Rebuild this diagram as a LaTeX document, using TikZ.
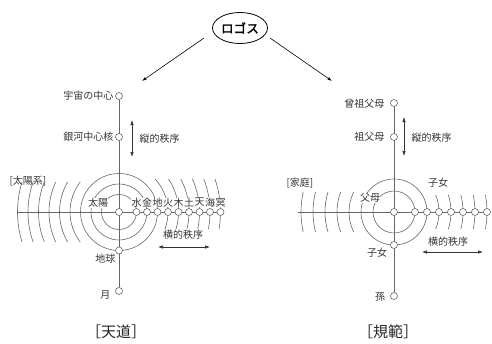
\documentclass[tikz,border=0pt]{standalone}
\usepackage{fontspec}
\setmainfont{Noto Sans CJK JP}
\newfontfamily\logofont[FakeBold=2]{Noto Sans CJK JP}
\usetikzlibrary{arrows.meta,shapes.geometric}
\pgfdeclarelayer{bg}
\pgfsetlayers{bg,main}
\begin{document}
\begin{tikzpicture}[x=1pt,y=-1pt,
  ln/.style={draw=black!60, line width=0.6pt},
  dot/.style={circle, draw=black!60, fill=white, line width=0.6pt, minimum size=7pt, inner sep=0pt},
  lab/.style={inner sep=0.4pt, font=\fontsize{10}{12}\selectfont, text=black!80},
  wlab/.style={lab, fill=white},
  big/.style={inner sep=0pt, font=\fontsize{15}{17}\selectfont, text=black!85},
  arr/.style={black!80, line width=0.6pt, {Latex[length=5pt,width=3.5pt]}-{Latex[length=5pt,width=3.5pt]}},
  toparr/.style={black, line width=0.6pt, -{Latex[length=4.5pt,width=3pt]}},
  ]
\useasboundingbox (0,0) rectangle (492,343);

% Logos
\node[ellipse, draw, line width=0.8pt, minimum width=55pt, minimum height=31pt, inner sep=0pt,
      font=\logofont\fontsize{12.5}{14}\selectfont] (logo) at (240,28) {ロゴス};
\coordinate (l0) at (204,38); \coordinate (l1) at (142,81);
\coordinate (r0) at (270,38); \coordinate (r1) at (332,81);
\draw[toparr] (l0) -- (l1);
\draw[toparr] (r0) -- (r1);

% ---------------- Left: 天道 ----------------
\coordinate (S) at (119,212);
\node[dot] (U) at (119,96) {};
\node[dot] (G) at (119,137) {};
\node[dot] (sun) at (S) {};
\node[dot] (E) at (119,250.5) {};
\node[dot] (M) at (119,291) {};
\coordinate (hl) at (18,212);
\foreach \i/\c in {1/水,2/金,3/地,4/火,5/木,6/土,7/天,8/海,9/冥}{
  \node[dot] (p\i) at ({136.5+10.5*(\i-1)},212) {};
  \node[wlab] (pl\i) at ({136.5+10.5*(\i-1)},202.5) {\c};
}
\begin{pgfonlayer}{bg}
  \draw[ln] (S) circle[radius=17.5];
  \draw[ln] (S) circle[radius=28];
  \draw[ln] (S) circle[radius=38.5];
  \foreach \i in {4,...,9}{
    \pgfmathsetmacro\r{17.5+10.5*(\i-1)}
    \pgfmathsetmacro\a{asin(30/\r)}
    \pgfmathsetmacro\at{asin(33/\r)}
    \pgfmathsetmacro\ab{asin(17/\r)}
    \draw[ln] (S) ++(180-\a:\r) arc[start angle=180-\a, end angle=180+\a, radius=\r];
    \draw[ln] (S) ++(-\at:\r) arc[start angle=-\at, end angle=\ab, radius=\r];
  }
  \draw[ln] (U) -- (M);
  \draw[ln] (hl) -- (p9);
\end{pgfonlayer}
\node[lab, anchor=east] (tU) at (114,96) {宇宙の中心};
\node[lab, anchor=east] (tG) at (114,137) {銀河中心核};
\coordinate (va1) at (132,120); \coordinate (va2) at (132,157);
\draw[arr] (va1) -- (va2);
\node[lab, anchor=west] (tv1) at (139,139) {縦的秩序};
\node[lab, anchor=west] (tsys) at (9,181) {[太陽系]};
\node[wlab] (tsun) at (98,203) {太陽};
\node[lab] (th1) at (183,235) {横的秩序};
\coordinate (ha1) at (158,247); \coordinate (ha2) at (210,247);
\draw[arr] (ha1) -- (ha2);
\node[lab, anchor=east] (tE) at (116,259) {地球};
\node[lab, anchor=east] (tM) at (111,295) {月};
\node[big] (tten) at (116,332) {［天道］};

% ---------------- Right: 規範 ----------------
\coordinate (P) at (394,212);
\node[dot] (A1) at (394,103) {};
\node[dot] (A2) at (394,137) {};
\node[dot] (par) at (P) {};
\node[dot] (C) at (394,245) {};
\node[dot] (GC) at (394,296) {};
\coordinate (hr) at (298,212);
\foreach \i in {1,...,7}{
  \node[dot] (c\i) at ({415+12*(\i-1)},212) {};
}
\begin{pgfonlayer}{bg}
  \draw[ln] (P) circle[radius=21];
  \draw[ln] (P) circle[radius=33];
  \foreach \i in {3,...,7}{
    \pgfmathsetmacro\r{21+12*(\i-1)}
    \pgfmathsetmacro\a{asin(20/\r)}
    \pgfmathsetmacro\b{asin(17/\r)}
    \draw[ln] (P) ++(180-\a:\r) arc[start angle=180-\a, end angle=180+\a, radius=\r];
    \draw[ln] (P) ++(-\b:\r) arc[start angle=-\b, end angle=\b, radius=\r];
  }
  \draw[ln] (A1) -- (GC);
  \draw[ln] (hr) -- (c7);
\end{pgfonlayer}
\node[lab, anchor=east] (tA1) at (385,104) {曾祖父母};
\node[lab, anchor=east] (tA2) at (385,137) {祖父母};
\coordinate (vb1) at (404,117); \coordinate (vb2) at (404,156);
\draw[arr] (vb1) -- (vb2);
\node[lab, anchor=west] (tv2) at (411,138) {縦的秩序};
\node[lab, anchor=west] (tfam) at (286,183) {[家庭]};
\node[lab] (tch1) at (438,183) {子女};
\node[wlab] (tpar) at (370,198) {父母};
\node[lab] (tch2) at (377,253) {子女};
\node[lab] (tgc) at (380,297) {孫};
\node[lab] (th2) at (448,242) {横的秩序};
\coordinate (hb1) at (422,252); \coordinate (hb2) at (483,252);
\draw[arr] (hb1) -- (hb2);
\node[big] (tkih) at (388,332) {［規範］};
\end{tikzpicture}
\end{document}
